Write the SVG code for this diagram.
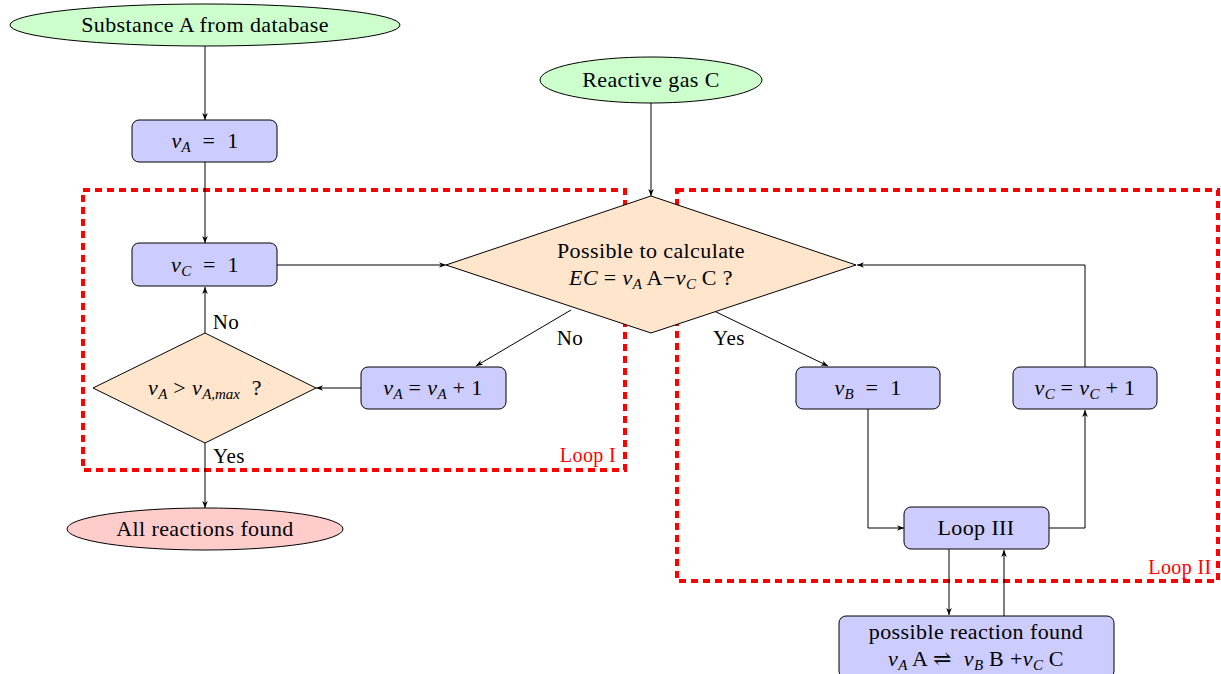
<svg xmlns="http://www.w3.org/2000/svg" width="1221" height="674" viewBox="0 0 1221 674">
<defs>
<marker id="arr" viewBox="0 0 10 10" refX="10" refY="5" markerWidth="7" markerHeight="7" orient="auto-start-reverse" markerUnits="userSpaceOnUse">
<path d="M0,1 L10,5 L0,9 L3,5 Z" fill="#000"/>
</marker>
<style>
text{font-family:"Liberation Serif","DejaVu Serif",serif;font-size:22px;letter-spacing:0.4px;fill:#000}
.m{font-style:italic}
.s{font-size:15px;font-style:italic;letter-spacing:0}
.lbl{font-size:21px}
.red{fill:#ff0000;font-size:20px}
.start{fill:#ccffcc;stroke:#000;stroke-width:1}
.end{fill:#ffcccc;stroke:#000;stroke-width:1}
.box{fill:#ccccff;stroke:#000;stroke-width:1}
.dec{fill:#ffe5cc;stroke:#000;stroke-width:1}
.loop{fill:none;stroke:#ff0000;stroke-width:4;stroke-dasharray:7 5}
.c{fill:none;stroke:#000;stroke-width:1;marker-end:url(#arr)}
</style>
</defs>
<rect width="1221" height="674" fill="#fff"/>

<g id="loops">
<rect class="loop" x="83" y="190" width="542" height="280"/>
<rect class="loop" x="677" y="190" width="541" height="391"/>
<text class="red" x="588" y="462" text-anchor="middle">Loop I</text>
<text class="red" x="1180" y="574" text-anchor="middle">Loop II</text>
</g>

<g id="connectors">
<line class="c" x1="205" y1="46" x2="205" y2="120"/>
<line class="c" x1="205" y1="162" x2="205" y2="243"/>
<line class="c" x1="651" y1="103" x2="651" y2="196"/>
<line class="c" x1="277" y1="265" x2="446" y2="265"/>
<line class="c" x1="571" y1="310" x2="476" y2="366"/>
<line class="c" x1="712" y1="310" x2="828" y2="366"/>
<line class="c" x1="361" y1="388" x2="316" y2="388"/>
<line class="c" x1="205" y1="333" x2="205" y2="287"/>
<line class="c" x1="205" y1="443" x2="205" y2="508"/>
<polyline class="c" points="868,409 868,528 904,528"/>
<polyline class="c" points="1049,528 1085,528 1085,410"/>
<polyline class="c" points="1085,367 1085,265 857,265"/>
<line class="c" x1="949" y1="549" x2="949" y2="615"/>
<line class="c" x1="1004" y1="616" x2="1004" y2="550"/>
<text class="lbl" x="226" y="329" text-anchor="middle">No</text>
<text class="lbl" x="229" y="463" text-anchor="middle">Yes</text>
<text class="lbl" x="570" y="345" text-anchor="middle">No</text>
<text class="lbl" x="729" y="345" text-anchor="middle">Yes</text>
</g>

<g id="substanceA">
<ellipse class="start" cx="205" cy="25" rx="195" ry="21"/>
<text x="205" y="32" text-anchor="middle">Substance A from database</text>
</g>

<g id="reactiveC">
<ellipse class="start" cx="651" cy="80" rx="111" ry="23"/>
<text x="651" y="87" text-anchor="middle">Reactive gas C</text>
</g>

<g id="nuA1">
<rect class="box" x="132" y="120" width="145" height="42" rx="7"/>
<text x="205" y="148" text-anchor="middle"><tspan class="m">ν</tspan><tspan class="s" dy="4">A</tspan><tspan dy="-4">&#160;&#160;=&#160;&#160;1</tspan></text>
</g>

<g id="nuC1">
<rect class="box" x="132" y="243" width="145" height="43" rx="7"/>
<text x="205" y="272" text-anchor="middle"><tspan class="m">ν</tspan><tspan class="s" dy="4">C</tspan><tspan dy="-4">&#160;&#160;=&#160;&#160;1</tspan></text>
</g>

<g id="mainDecision">
<polygon class="dec" points="651,196 856,265 651,333 446,265"/>
<text x="651" y="258" text-anchor="middle">Possible to calculate</text>
<text x="651" y="285" text-anchor="middle"><tspan class="m">EC</tspan><tspan>&#160;=&#160;</tspan><tspan class="m">ν</tspan><tspan class="s" dy="4">A</tspan><tspan dy="-4"> A−</tspan><tspan class="m">ν</tspan><tspan class="s" dy="4">C</tspan><tspan dy="-4"> C ?</tspan></text>
</g>

<g id="maxDecision">
<polygon class="dec" points="205,333 316,388 205,443 93,388"/>
<text x="205" y="395" text-anchor="middle"><tspan class="m">ν</tspan><tspan class="s" dy="4">A</tspan><tspan dy="-4">&#160;&gt;&#160;</tspan><tspan class="m">ν</tspan><tspan class="s" dy="4">A,max</tspan><tspan dy="-4">&#160;&#160;?</tspan></text>
</g>

<g id="nuAinc">
<rect class="box" x="361" y="367" width="145" height="42" rx="7"/>
<text x="433" y="395" text-anchor="middle"><tspan class="m">ν</tspan><tspan class="s" dy="4">A</tspan><tspan dy="-4">&#160;=&#160;</tspan><tspan class="m">ν</tspan><tspan class="s" dy="4">A</tspan><tspan dy="-4">&#160;+&#160;1</tspan></text>
</g>

<g id="nuB1">
<rect class="box" x="796" y="367" width="144" height="42" rx="7"/>
<text x="868" y="395" text-anchor="middle"><tspan class="m">ν</tspan><tspan class="s" dy="4">B</tspan><tspan dy="-4">&#160;&#160;=&#160;&#160;1</tspan></text>
</g>

<g id="nuCinc">
<rect class="box" x="1013" y="367" width="144" height="42" rx="7"/>
<text x="1085" y="395" text-anchor="middle"><tspan class="m">ν</tspan><tspan class="s" dy="4">C</tspan><tspan dy="-4">&#160;=&#160;</tspan><tspan class="m">ν</tspan><tspan class="s" dy="4">C</tspan><tspan dy="-4">&#160;+&#160;1</tspan></text>
</g>

<g id="loop3">
<rect class="box" x="904" y="507" width="145" height="42" rx="7"/>
<text x="976" y="535" text-anchor="middle">Loop III</text>
</g>

<g id="reactionFound">
<rect class="box" x="839" y="616" width="275" height="62" rx="7"/>
<text x="976" y="639" text-anchor="middle">possible reaction found</text>
<text x="976" y="666" text-anchor="middle"><tspan class="m">ν</tspan><tspan class="s" dy="4">A</tspan><tspan dy="-4"> A ⇌&#160;&#160;</tspan><tspan class="m">ν</tspan><tspan class="s" dy="4">B</tspan><tspan dy="-4"> B +</tspan><tspan class="m">ν</tspan><tspan class="s" dy="4">C</tspan><tspan dy="-4"> C</tspan></text>
</g>

<g id="allFound">
<ellipse class="end" cx="205" cy="529" rx="138" ry="21"/>
<text x="205" y="536" text-anchor="middle">All reactions found</text>
</g>
</svg>
